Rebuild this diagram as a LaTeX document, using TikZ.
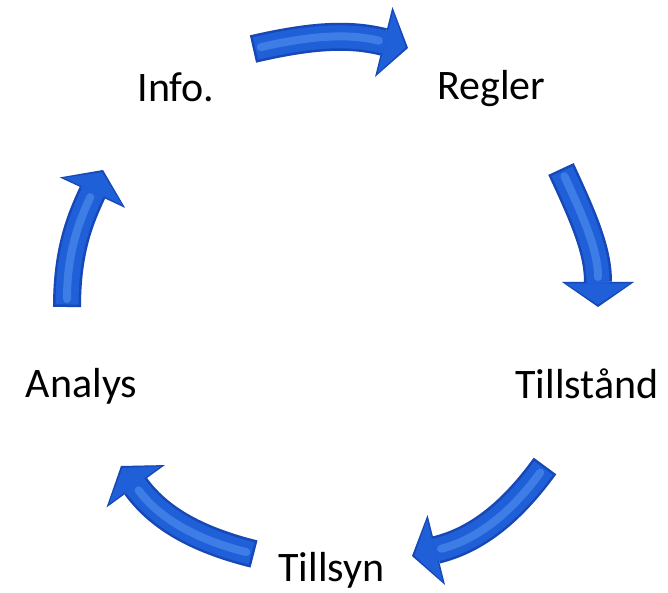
\documentclass[tikz,border=0pt]{standalone}
\usepackage{fontspec}
\setmainfont{Carlito}
\usetikzlibrary{arrows.meta}
\definecolor{arrdark}{HTML}{1748B8}
\definecolor{arrmid}{HTML}{1F60D8}
\definecolor{arrlight}{HTML}{3E7CE6}
\definecolor{shadowc}{HTML}{E2E2E2}
\tikzset{
  lbl/.style={font=\fontsize{42}{50}\selectfont, inner sep=0pt, anchor=base, text=black},
  arrshadow/.style={line width=28pt, draw=shadowc, -{Triangle[width=72pt,length=25pt,line width=0pt]}, shift={(2,-4)}},
  arrbase/.style={line width=28pt, draw=arrdark, -{Triangle[width=72pt,length=25pt,line width=0pt]}},
  arrbody/.style={line width=23pt, draw=arrmid, -{Triangle[width=64pt,length=21pt,line width=0pt]}, shorten >=2.5pt, shorten <=2.5pt},
  arrshine/.style={line width=8pt, draw=arrlight, line cap=round, shorten >=30pt, shorten <=8pt},
}
\newcommand\cyclearrow[4]{%
  \draw[arrshadow] (#1) to[out=#3,in=#4] (#2);
  \draw[arrbase] (#1) to[out=#3,in=#4] (#2);
  \draw[arrbody] (#1) to[out=#3,in=#4] (#2);
  \draw[arrshine] (#1) to[out=#3,in=#4] (#2);
}
\begin{document}
\begin{tikzpicture}[x=1pt,y=1pt]
\useasboundingbox (0,0) rectangle (668,592);
% labels
\node[lbl] (info) at (176,490) {Info.};
\node[lbl] (regler) at (491.5,492) {Regler};
\node[lbl] (tillstand) at (587,194) {Tillstånd};
\node[lbl] (analys) at (81.5,195) {Analys};
\node[lbl] (tillsyn) at (331.5,11) {Tillsyn};
% arrow end points
\coordinate (a1s) at (253,543);
\coordinate (a1e) at (408,544);
\coordinate (a2s) at (561,423);
\coordinate (a2e) at (598,285);
\coordinate (a3s) at (67,285);
\coordinate (a3e) at (103,422);
\coordinate (a4s) at (545,126);
\coordinate (a4e) at (412,36);
\coordinate (a5s) at (254,38);
\coordinate (a5e) at (121,126);
% arrows
\cyclearrow{a1s}{a1e}{13}{166}
\cyclearrow{a2s}{a2e}{-65}{90}
\cyclearrow{a4s}{a4e}{234}{14}
\cyclearrow{a5s}{a5e}{166}{306}
\cyclearrow{a3s}{a3e}{90}{245}
\end{tikzpicture}
\end{document}
